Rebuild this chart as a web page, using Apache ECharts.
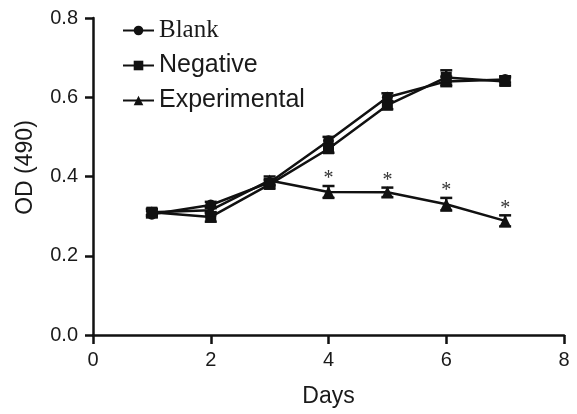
<!DOCTYPE html>
<html>
<head>
<meta charset="utf-8">
<script src="https://cdn.jsdelivr.net/npm/echarts@6/dist/echarts.min.js"></script>
<style>html,body{margin:0;padding:0;background:#fff}#c{width:577px;height:414px}</style>
</head>
<body>
<div id="c"></div>
<script>
var days = [1, 2, 3, 4, 5, 6, 7];
var blank = [0.305, 0.328, 0.385, 0.49, 0.60, 0.64, 0.645];
var blankErr = [0.008, 0.008, 0.008, 0.01, 0.01, 0.012, 0.008];
var negative = [0.31, 0.298, 0.38, 0.47, 0.58, 0.65, 0.64];
var negativeErr = [0.008, 0.012, 0.01, 0.01, 0.01, 0.018, 0.01];
var experimental = [0.31, 0.315, 0.39, 0.361, 0.36, 0.33, 0.288];
var experimentalErr = [0.008, 0.008, 0.01, 0.015, 0.012, 0.016, 0.014];
var starDays = [4, 5, 6, 7];
var xTicks = [0, 2, 4, 6, 8];
var yTicks = [0.0, 0.2, 0.4, 0.6, 0.8];

function pairs(ys) { return days.map(function (d, i) { return [d, ys[i]]; }); }
function errData(ys, es) { return days.map(function (d, i) { return [d, ys[i] - es[i], ys[i] + es[i]]; }); }

function errSeries(ys, es) {
  return {
    type: 'custom', silent: true, z: 3,
    data: errData(ys, es),
    renderItem: function (params, api) {
      var x = api.value(0);
      var lo = api.coord([x, api.value(1)]);
      var hi = api.coord([x, api.value(2)]);
      var w = 6;
      var st = { stroke: '#111', lineWidth: 2.5 };
      return { type: 'group', children: [
        { type: 'line', shape: { x1: lo[0], y1: lo[1], x2: hi[0], y2: hi[1] }, style: st },
        { type: 'line', shape: { x1: lo[0] - w, y1: lo[1], x2: lo[0] + w, y2: lo[1] }, style: st },
        { type: 'line', shape: { x1: hi[0] - w, y1: hi[1], x2: hi[0] + w, y2: hi[1] }, style: st }
      ]};
    }
  };
}

var starData = starDays.map(function (d) {
  var i = days.indexOf(d);
  return [d, experimental[i] + experimentalErr[i]];
});

var chart = echarts.init(document.getElementById('c'));
chart.setOption({
  animation: false,
  backgroundColor: '#fff',
  grid: { left: 93, right: 13, top: 18, bottom: 79 },
  legend: {
    left: 122, top: 18, orient: 'vertical', itemGap: 10, padding: 0,
    itemWidth: 31, itemHeight: 12,
    textStyle: { fontSize: 25, color: '#1a1a1a', fontFamily: 'Liberation Sans, Arial', lineHeight: 24 },
    data: [
      { name: 'Blank', textStyle: { fontFamily: 'Liberation Serif, Times New Roman', fontSize: 25 } },
      { name: 'Negative' },
      { name: 'Experimental' }
    ]
  },
  xAxis: {
    type: 'value', min: 0, max: 8, interval: 2,
    name: 'Days', nameLocation: 'middle', nameGap: 50,
    nameTextStyle: { fontSize: 23, color: '#1a1a1a', fontFamily: 'Liberation Sans, Arial', lineHeight: 24 },
    axisLine: { lineStyle: { color: '#111', width: 2.5 } },
    axisTick: { show: true, length: 9, lineStyle: { color: '#111', width: 2.5 } },
    axisLabel: { fontSize: 20, color: '#1a1a1a', margin: 15, fontFamily: 'Liberation Sans, Arial' },
    splitLine: { show: false }
  },
  yAxis: {
    type: 'value', min: 0, max: 0.8, interval: 0.2,
    name: 'OD (490)', nameLocation: 'middle', nameGap: 55,
    nameTextStyle: { fontSize: 23, color: '#1a1a1a', fontFamily: 'Liberation Sans, Arial', lineHeight: 24,
      padding: [0, 0, 0, 18] },
    axisLine: { show: true, lineStyle: { color: '#111', width: 2.5 } },
    axisTick: { show: true, length: 8, lineStyle: { color: '#111', width: 2.5 } },
    axisLabel: { fontSize: 20, color: '#1a1a1a', margin: 15, fontFamily: 'Liberation Sans, Arial',
      formatter: function (v) { return v.toFixed(1); } },
    splitLine: { show: false }
  },
  series: [
    { name: 'Blank', type: 'line', data: pairs(blank), symbol: 'circle', symbolSize: 11,
      itemStyle: { color: '#111' }, lineStyle: { color: '#111', width: 2.5 }, z: 4 },
    { name: 'Negative', type: 'line', data: pairs(negative), symbol: 'rect', symbolSize: 11,
      itemStyle: { color: '#111' }, lineStyle: { color: '#111', width: 2.5 }, z: 4 },
    { name: 'Experimental', type: 'line', data: pairs(experimental), symbol: 'triangle', symbolSize: 12,
      itemStyle: { color: '#111' }, lineStyle: { color: '#111', width: 2.5 }, z: 4 },
    errSeries(blank, blankErr),
    errSeries(negative, negativeErr),
    errSeries(experimental, experimentalErr),
    {
      type: 'custom', silent: true, z: 5, data: starData,
      renderItem: function (params, api) {
        var p = api.coord([api.value(0), api.value(1)]);
        return { type: 'text', x: p[0], y: p[1] + 3,
          style: { text: '*', fontSize: 20, fill: '#333', align: 'center', verticalAlign: 'bottom',
                   fontFamily: 'Liberation Serif, Times New Roman' } };
      }
    }
  ]
});
</script>
</body>
</html>
